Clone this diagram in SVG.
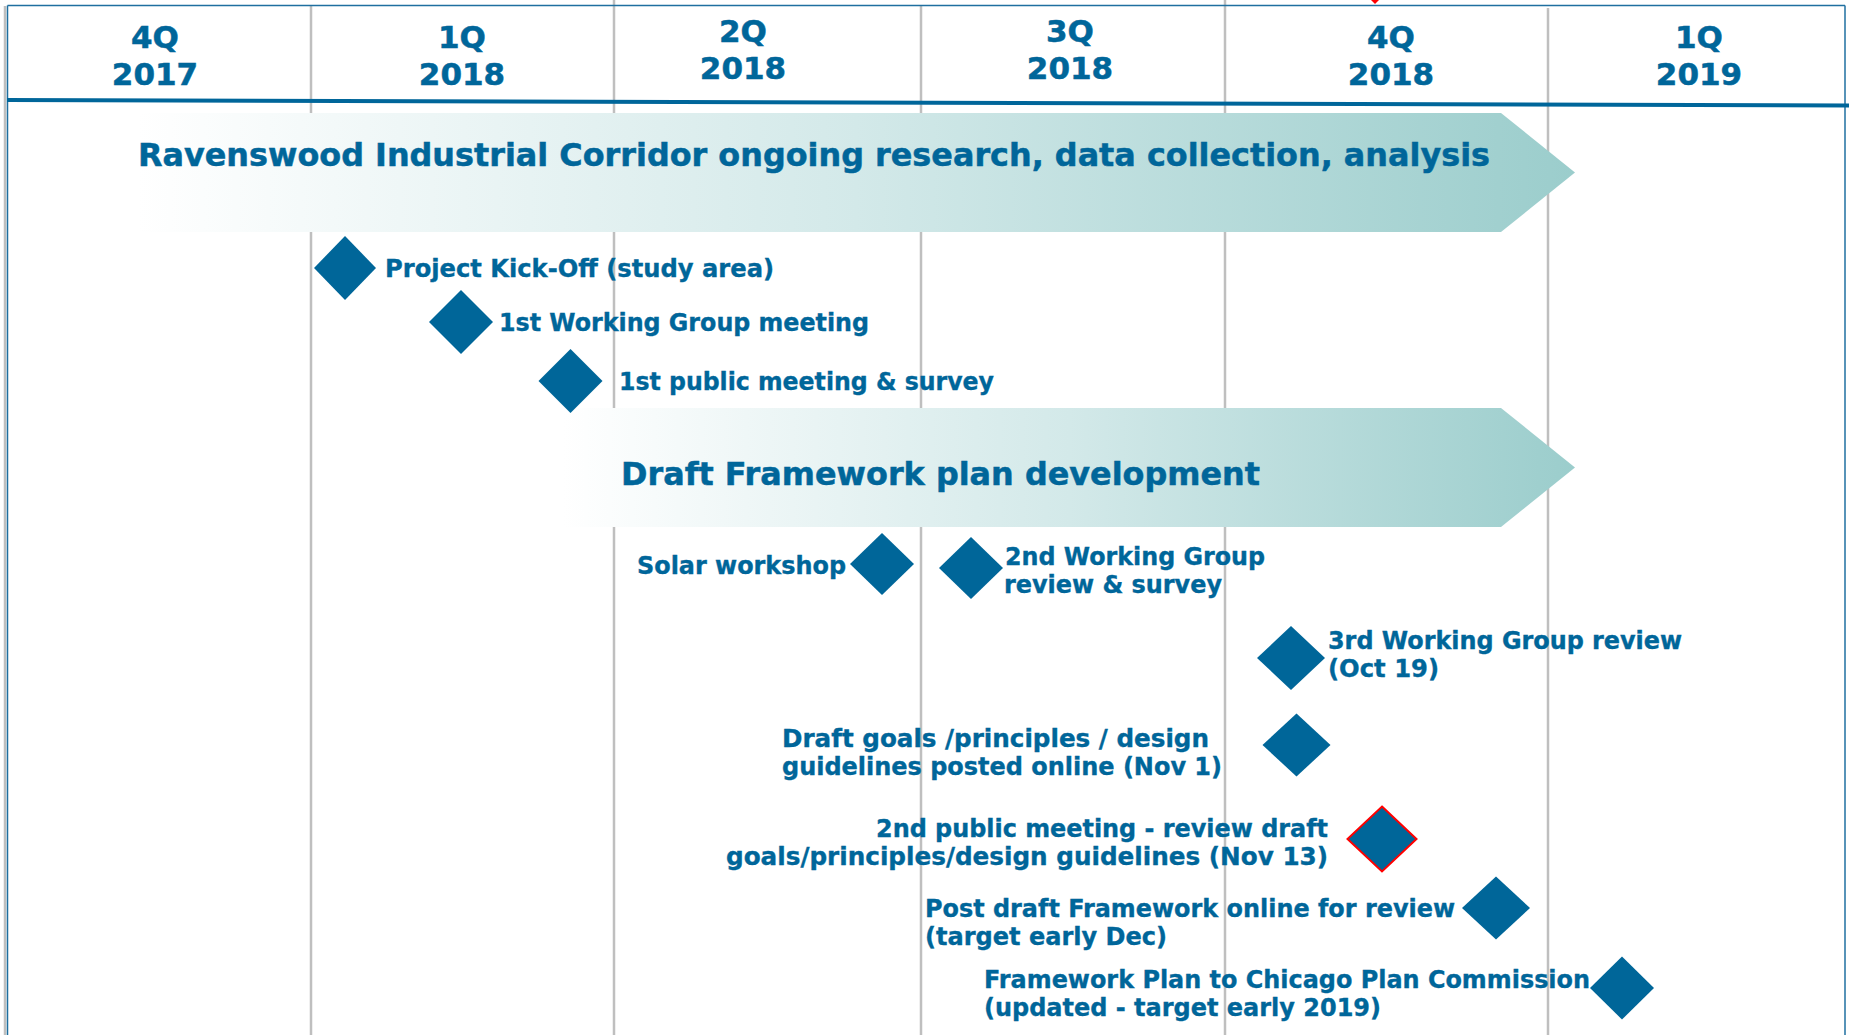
<svg xmlns="http://www.w3.org/2000/svg" width="1849" height="1035" viewBox="0 0 1849 1035">
<defs>
<linearGradient id="band" x1="0" y1="0" x2="1" y2="0">
<stop offset="0" stop-color="#ffffff"/>
<stop offset="0.5" stop-color="#d3e9e9"/>
<stop offset="1" stop-color="#9bcdcc"/>
</linearGradient>
<style>
.grid{stroke:#bfbfbf;stroke-width:2.5;fill:none}
.frame{stroke:#1f6fa0;stroke-width:1.5;fill:none}
.hdr{font-family:"DejaVu Sans",Verdana,sans-serif;font-weight:bold;font-size:31px;fill:#00669a;stroke:#00669a;stroke-width:0.5;text-anchor:middle}
.ban{font-family:"DejaVu Sans",Verdana,sans-serif;font-weight:bold;font-size:32px;fill:#00669a;stroke:#00669a;stroke-width:0.5}
.lbl{font-family:"DejaVu Sans",Verdana,sans-serif;font-weight:bold;font-size:24px;fill:#00669a;stroke:#00669a;stroke-width:0.35}
.dia{fill:#006699}
</style>
</defs>
<rect x="0" y="0" width="1849" height="1035" fill="#ffffff"/>
<g id="grid">
<line class="grid" x1="5" y1="6" x2="5" y2="1035"/>
<line class="grid" x1="311" y1="6" x2="311" y2="1035"/>
<line class="grid" x1="614" y1="0" x2="614" y2="1035"/>
<line class="grid" x1="921" y1="6" x2="921" y2="1035"/>
<line class="grid" x1="1225" y1="0" x2="1225" y2="1035"/>
<line class="grid" x1="1548" y1="8" x2="1548" y2="1035"/>
<path d="M1371,0 L1379,0 L1375,4 Z" fill="#ff0000"/>
</g>
<g id="frame">
<line class="frame" x1="7.5" y1="5.5" x2="1845" y2="5.5"/>
<line class="frame" x1="7.5" y1="5.5" x2="7.5" y2="1035"/>
<line class="frame" x1="1845" y1="5.5" x2="1845" y2="1035"/>
<line x1="7" y1="100" x2="1849" y2="105.5" stroke="#00669a" stroke-width="4"/>
</g>
<g id="header">
<text class="hdr" x="155" y="48">4Q</text><text class="hdr" x="155" y="85">2017</text>
<text class="hdr" x="462" y="48">1Q</text><text class="hdr" x="462" y="85">2018</text>
<text class="hdr" x="743" y="42">2Q</text><text class="hdr" x="743" y="79">2018</text>
<text class="hdr" x="1070" y="42">3Q</text><text class="hdr" x="1070" y="79">2018</text>
<text class="hdr" x="1391" y="48">4Q</text><text class="hdr" x="1391" y="85">2018</text>
<text class="hdr" x="1699" y="48">1Q</text><text class="hdr" x="1699" y="85">2019</text>
</g>
<g id="banner-research">
<polygon points="138,113 1501,113 1575,172.5 1501,232 138,232" fill="url(#band)"/>
<text class="ban" x="138" y="166" textLength="1352" lengthAdjust="spacingAndGlyphs">Ravenswood Industrial Corridor ongoing research, data collection, analysis</text>
</g>
<g id="banner-draft">
<polygon points="563,408 1501,408 1575,467.5 1501,527 563,527" fill="url(#band)"/>
<text class="ban" x="621" y="485" textLength="639" lengthAdjust="spacingAndGlyphs">Draft Framework plan development</text>
</g>
<g id="m-kickoff">
<polygon class="dia" points="345,236 376,268 345,300 314,268"/>
<text class="lbl" x="385" y="277" textLength="389" lengthAdjust="spacingAndGlyphs">Project Kick-Off (study area)</text>
</g>
<g id="m-wg1">
<polygon class="dia" points="461,290 493,322 461,354 429,322"/>
<text class="lbl" x="499" y="331" textLength="370" lengthAdjust="spacingAndGlyphs">1st Working Group meeting</text>
</g>
<g id="m-public1">
<polygon class="dia" points="570.5,349 602.5,381 570.5,413 538.5,381"/>
<text class="lbl" x="619" y="390" textLength="375" lengthAdjust="spacingAndGlyphs">1st public meeting &amp; survey</text>
</g>
<g id="m-solar">
<polygon class="dia" points="882,533 914,564 882,595 850,564"/>
<text class="lbl" x="637" y="574" textLength="209" lengthAdjust="spacingAndGlyphs">Solar workshop</text>
</g>
<g id="m-wg2">
<polygon class="dia" points="971,537 1003,568 971,599 939,568"/>
<text class="lbl" x="1005" y="565" textLength="260" lengthAdjust="spacingAndGlyphs">2nd Working Group</text>
<text class="lbl" x="1004" y="593" textLength="218" lengthAdjust="spacingAndGlyphs">review &amp; survey</text>
</g>
<g id="m-wg3">
<polygon class="dia" points="1291,626 1325,658 1291,690 1257,658"/>
<text class="lbl" x="1328" y="649" textLength="354" lengthAdjust="spacingAndGlyphs">3rd Working Group review</text>
<text class="lbl" x="1328" y="677" textLength="111" lengthAdjust="spacingAndGlyphs">(Oct 19)</text>
</g>
<g id="m-goals">
<polygon class="dia" points="1296.5,713.5 1330.5,745 1296.5,776.5 1262.5,745"/>
<text class="lbl" x="782" y="747" textLength="427" lengthAdjust="spacingAndGlyphs">Draft goals /principles / design</text>
<text class="lbl" x="782" y="775" textLength="440" lengthAdjust="spacingAndGlyphs">guidelines posted online (Nov 1)</text>
</g>
<g id="m-public2">
<polygon class="dia" points="1382,806.5 1416.5,839 1382,871.5 1347.5,839" stroke="#ff0000" stroke-width="2"/>
<text class="lbl" x="1328" y="837" text-anchor="end" textLength="452" lengthAdjust="spacingAndGlyphs">2nd public meeting - review draft</text>
<text class="lbl" x="1328" y="865" text-anchor="end" textLength="602" lengthAdjust="spacingAndGlyphs">goals/principles/design guidelines (Nov 13)</text>
</g>
<g id="m-postdraft">
<polygon class="dia" points="1496,876.5 1530,908 1496,939.5 1462,908"/>
<text class="lbl" x="925" y="917" textLength="530" lengthAdjust="spacingAndGlyphs">Post draft Framework online for review</text>
<text class="lbl" x="925" y="945" textLength="242" lengthAdjust="spacingAndGlyphs">(target early Dec)</text>
</g>
<g id="m-cpc">
<polygon class="dia" points="1622,956.5 1654,988 1622,1019.5 1590,988"/>
<text class="lbl" x="984" y="988" textLength="606" lengthAdjust="spacingAndGlyphs">Framework Plan to Chicago Plan Commission</text>
<text class="lbl" x="984" y="1016" textLength="397" lengthAdjust="spacingAndGlyphs">(updated - target early 2019)</text>
</g>
</svg>
